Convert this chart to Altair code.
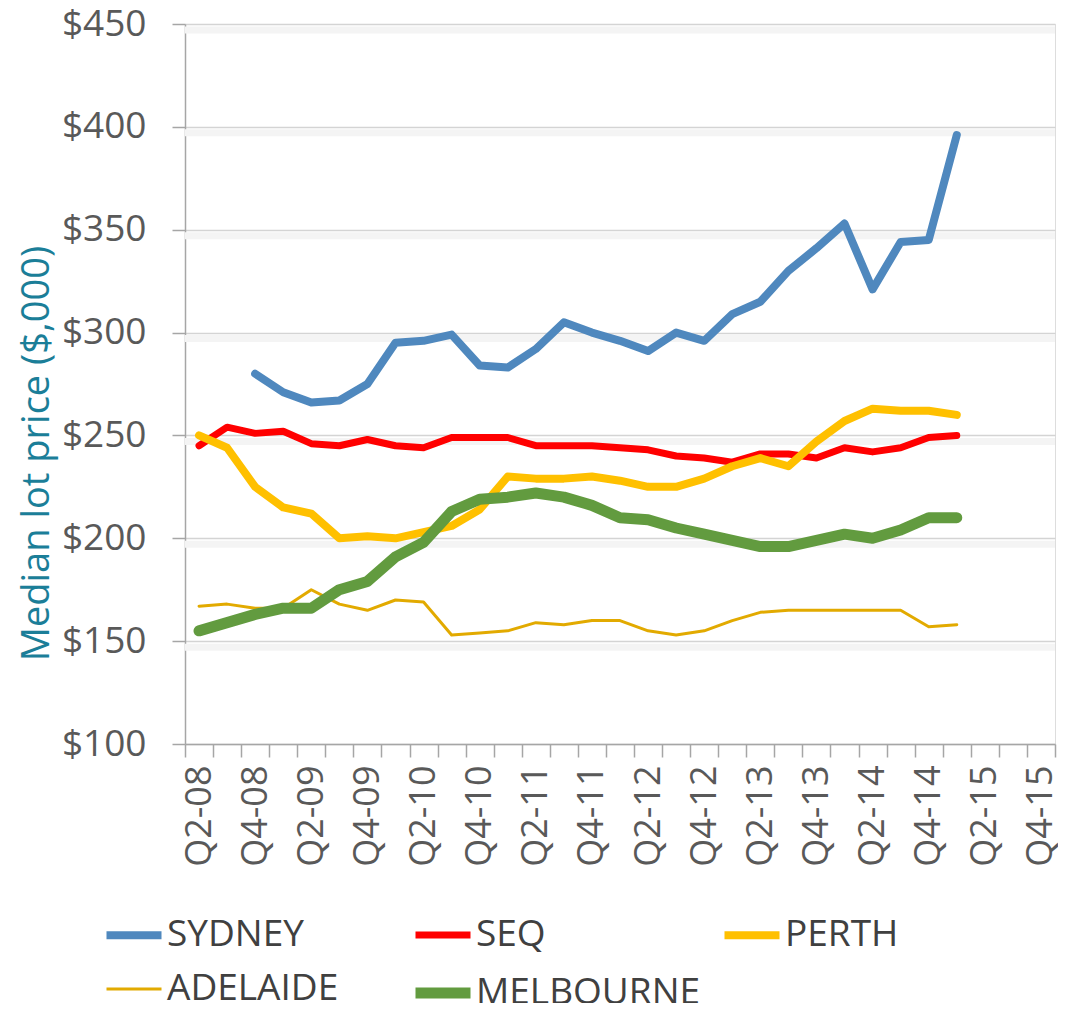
import altair as alt
import pandas as pd

quarters = ["Q2-08", "Q3-08", "Q4-08", "Q1-09", "Q2-09", "Q3-09", "Q4-09", "Q1-10",
            "Q2-10", "Q3-10", "Q4-10", "Q1-11", "Q2-11", "Q3-11", "Q4-11", "Q1-12",
            "Q2-12", "Q3-12", "Q4-12", "Q1-13", "Q2-13", "Q3-13", "Q4-13", "Q1-14",
            "Q2-14", "Q3-14", "Q4-14", "Q1-15", "Q2-15", "Q3-15", "Q4-15"]
labelled_quarters = quarters[::2]

sydney = [None, None, 280, 271, 266, 267, 275, 295, 296, 299, 284, 283, 292, 305,
          300, 296, 291, 300, 296, 309, 315, 330, 341, 353, 321, 344, 345, 396]
seq = [245, 254, 251, 252, 246, 245, 248, 245, 244, 249, 249, 249, 245, 245,
       245, 244, 243, 240, 239, 237, 241, 241, 239, 244, 242, 244, 249, 250]
perth = [250, 244, 225, 215, 212, 200, 201, 200, 203, 206, 214, 230, 229, 229,
         230, 228, 225, 225, 229, 235, 239, 235, 247, 257, 263, 262, 262, 260]
adelaide = [167, 168, 166, 166, 175, 168, 165, 170, 169, 153, 154, 155, 159, 158,
            160, 160, 155, 153, 155, 160, 164, 165, 165, 165, 165, 165, 157, 158]
melbourne = [155, 159, 163, 166, 166, 175, 179, 191, 198, 213, 219, 220, 222, 220,
             216, 210, 209, 205, 202, 199, 196, 196, 199, 202, 200, 204, 210, 210]

series_names = ["SYDNEY", "SEQ", "PERTH", "ADELAIDE", "MELBOURNE"]
series_colors = ["#4F88BE", "#FF0000", "#FFC000", "#E2AA00", "#629B3F"]
series_widths = [8, 7, 8, 3, 11]
y_ticks = [100, 150, 200, 250, 300, 350, 400, 450]

rows = []
for name, vals in zip(series_names, [sydney, seq, perth, adelaide, melbourne]):
    for q, v in zip(quarters, vals):
        if v is not None:
            rows.append({"quarter": q, "price": v, "city": name})
df = pd.DataFrame(rows)

grid_df = pd.DataFrame({"price": y_ticks[1:]})

FONT = "Open Sans"
label_list = "[" + ",".join("'%s'" % q for q in labelled_quarters) + "]"

x_enc = alt.X(
    "quarter:N",
    scale=alt.Scale(type="band", domain=quarters, paddingInner=0, paddingOuter=0),
    bandPosition=0.5,
    axis=alt.Axis(
        title=None, tickBand="extent", labelAngle=270, labelAlign="right",
        labelBaseline="middle", labelFontSize=36, labelColor="#595959",
        labelPadding=8, tickSize=13, tickColor="#A6A6A6", tickWidth=1.5,
        domainColor="#A6A6A6", domainWidth=1.5, grid=False,
        labelExpr="indexof(" + label_list + ", datum.value) >= 0 ? datum.value : ''",
        labelFont=FONT, labelOverlap=False,
    ),
)

y_scale = alt.Scale(domain=[100, 450], nice=False, zero=False)
y_axis = alt.Axis(
    values=y_ticks, format="$.0f", labelFontSize=37, labelColor="#595959",
    labelFont=FONT, labelPadding=26, tickSize=13, tickColor="#A6A6A6",
    tickWidth=1.5, domainColor="#A6A6A6", domainWidth=1.5,
    gridColor="#D4D4D4", gridWidth=1.5,
    title="Median lot price ($,000)", titleFontSize=38, titleFont=FONT,
    titleFontWeight="normal", titleColor="#1B7E98", titleAngle=270,
    titleX=-148, titleY=429, titleAlign="center", titleBaseline="middle",
)

shadow = alt.Chart(grid_df).mark_rule(color="#F4F4F4", strokeWidth=7, yOffset=6).encode(
    y=alt.Y("price:Q", scale=y_scale, axis=y_axis)
)

legend_props = dict(
    title=None, orient="none", legendX=-84, legendY=877, direction="horizontal",
    columns=3, gridAlign="all", symbolType="stroke", symbolSize=3025,
    labelFontSize=37, labelColor="#404040", labelFont=FONT,
    columnPadding=1, rowPadding=4, labelOffset=0, labelLimit=400,
)

lines = alt.Chart(df).mark_line(strokeCap="round", strokeJoin="round").encode(
    x=x_enc,
    y=alt.Y("price:Q", scale=y_scale, axis=y_axis),
    color=alt.Color(
        "city:N", scale=alt.Scale(domain=series_names, range=series_colors),
        legend=alt.Legend(**legend_props),
    ),
    strokeWidth=alt.StrokeWidth(
        "city:N",
        scale=alt.Scale(type="ordinal", domain=series_names, range=series_widths),
        legend=alt.Legend(**legend_props),
    ),
)

chart = alt.layer(shadow, lines).properties(
    width=870, height=720,
    autosize=alt.AutoSizeParams(type="none"),
    padding={"left": 177, "top": 16, "right": 3, "bottom": 259},
).configure_view(strokeWidth=0).configure(font=FONT)

chart.save("out.html", embed_options={"renderer": "svg", "actions": False})
